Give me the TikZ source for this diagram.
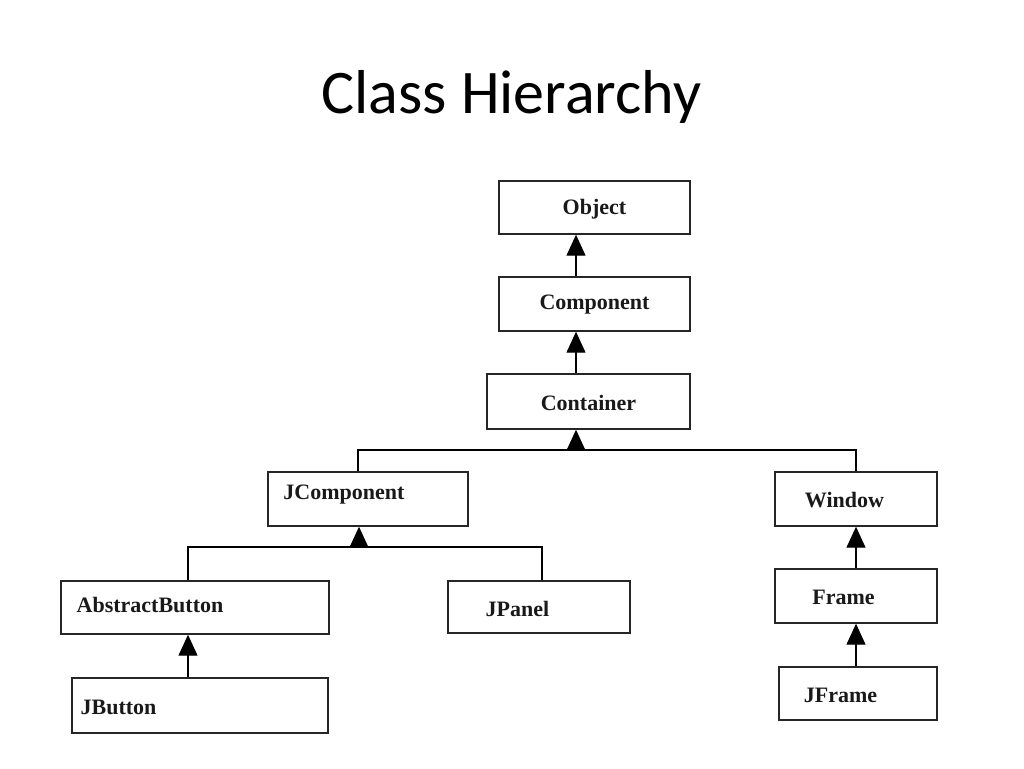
\documentclass[tikz,border=0pt]{standalone}
\usepackage{fontspec}
\setmainfont{Liberation Serif}
\newfontfamily\titlefont{Carlito}
\usetikzlibrary{%
  arrows.meta,%
  positioning,%
  calc%
}

\begin{document}
\begin{tikzpicture}
  [
  x=1pt, y=-1pt, draw=black, line width=1.3pt,
  cls/.style={rectangle, draw=black!85, line width=1.4pt, minimum height=54pt, inner sep=0pt},
  txt/.style={font=\fontsize{22}{26}\selectfont\bfseries, text=black!90, inner sep=0pt},
  inh/.style={-{Triangle[width=19pt,length=21pt]}, line width=1.3pt},
  title/.style={font=\titlefont\fontsize{62}{70}\selectfont, anchor=base}
  ]

\useasboundingbox (0,0) rectangle (1024,768);

\node[title] (title) at (511.5,113) {Class Hierarchy};

% top chain
\node[cls, minimum width=191pt, minimum height=53pt, label={[txt,yshift=-2pt]center:Object}] (obj) at (594.5,207.5) {};
\node[cls, minimum width=191pt, label={[txt,yshift=-1pt]center:Component}] (comp) at (594.5,304) {};
\node[cls, minimum width=203pt, minimum height=55pt, label={[txt,yshift=-1pt]center:Container}] (cont) at (588.5,401.5) {};

% second level
\node[cls, minimum width=200pt, label={[txt,xshift=-24pt,yshift=4pt]center:JComponent}] (jcomp) at (368,499) {};
\node[cls, minimum width=162pt, label={[txt,xshift=-11.5pt,yshift=-1pt]center:Window}] (win) at (856,499) {};

% third level
\node[cls, minimum width=268pt, minimum height=53pt, label={[txt,xshift=-45pt,yshift=3pt]center:AbstractButton}] (abs) at (195,607.5) {};
\node[cls, minimum width=182pt, minimum height=52pt, label={[txt,xshift=-21.5pt,yshift=-2pt]center:JPanel}] (jpan) at (539,607) {};
\node[cls, minimum width=162pt, label={[txt,xshift=-12.5pt,yshift=-1pt]center:Frame}] (frm) at (856,596) {};

% bottom
\node[cls, minimum width=256pt, minimum height=55pt, label={[txt,xshift=-81.5pt,yshift=-2pt]center:JButton}] (jbut) at (200,705.5) {};
\node[cls, minimum width=158pt, minimum height=53pt, label={[txt,xshift=-17.5pt,yshift=-2pt]center:JFrame}] (jfr) at (858,693.5) {};

\coordinate (spine) at (576,0);
\coordinate (bus1) at (576,450);
\coordinate (bus2) at (359,547);
\coordinate (ab) at ([xshift=-7pt]abs.south);

\draw[inh] (comp.north -| spine) -- (obj.south -| spine);
\draw[inh] (cont.north -| spine) -- (comp.south -| spine);

\draw ([xshift=-10pt]jcomp.north) |- (bus1) -| (win.north);
\draw[inh] (bus1) -- (cont.south -| bus1);

\draw ([xshift=-7pt]abs.north) |- (bus2) -| ([xshift=3pt]jpan.north);
\draw[inh] (bus2) -- (jcomp.south -| bus2);

\draw[inh] (jbut.north -| ab) -- (ab);
\draw[inh] (frm.north) -- (win.south);
\draw[inh] (jfr.north -| frm.south) -- (frm.south);

\end{tikzpicture}
\end{document}
